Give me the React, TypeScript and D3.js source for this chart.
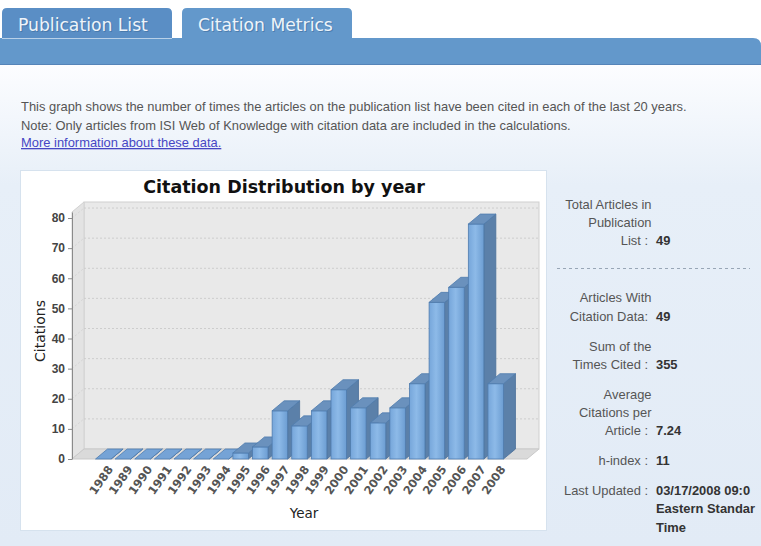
import * as d3 from "d3";
import { useEffect, useRef } from "react";

// data
const years = ["1988", "1989", "1990", "1991", "1992", "1993", "1994", "1995", "1996", "1997", "1998",
  "1999", "2000", "2001", "2002", "2003", "2004", "2005", "2006", "2007", "2008"];
const citations = [0, 0, 0, 0, 0, 0, 0, 2, 4, 16, 11, 16, 23, 17, 12, 17, 25, 52, 57, 78, 25];
const yTicks = [0, 10, 20, 30, 40, 50, 60, 70, 80];

const tabNames = ["Publication List", "Citation Metrics"];
const introLines = [
  "This graph shows the number of times the articles on the publication list have been cited in each of the last 20 years.",
  "Note: Only articles from ISI Web of Knowledge with citation data are included in the calculations.",
];
const linkText = "More information about these data.";
const chartTitle = "Citation Distribution by year";
const xTitle = "Year";
const yTitle = "Citations";

const statLabels = [
  ["Total Articles in", "Publication", "List :"],
  ["Articles With", "Citation Data:"],
  ["Sum of the", "Times Cited :"],
  ["Average", "Citations per", "Article :"],
  ["h-index :"],
  ["Last Updated :"],
];
// the last value is shown cut off by the page edge in the reference
const statValues = [["49"], ["49"], ["355"], ["7.24"], ["11"], ["03/17/2008 09:0", "Eastern Standar", "Time"]];

const W = 761;
const H = 546;
const PAGE_FONT = "'Liberation Sans', Arial, sans-serif";
const CHART_FONT = "'DejaVu Sans', sans-serif";

export default function App() {
  const ref = useRef<SVGSVGElement>(null);

  useEffect(() => {
    const svg = d3.select(ref.current);
    svg.selectAll("*").remove();
    const defs = svg.append("defs");

    const pageBg = defs.append("linearGradient").attr("id", "pageBg")
      .attr("x1", 0).attr("y1", 0).attr("x2", 0).attr("y2", 1);
    pageBg.append("stop").attr("offset", "0%").attr("stop-color", "#fcfdff");
    pageBg.append("stop").attr("offset", "25%").attr("stop-color", "#e7eff8");
    pageBg.append("stop").attr("offset", "100%").attr("stop-color", "#e2ebf6");

    const front = defs.append("linearGradient").attr("id", "barFront")
      .attr("x1", 0).attr("y1", 0).attr("x2", 1).attr("y2", 0);
    front.append("stop").attr("offset", "0%").attr("stop-color", "#76a6da");
    front.append("stop").attr("offset", "45%").attr("stop-color", "#8dbae8");
    front.append("stop").attr("offset", "100%").attr("stop-color", "#6c9dd2");

    // page
    svg.append("rect").attr("width", W).attr("height", H).attr("fill", "#ffffff");
    svg.append("rect").attr("y", 65).attr("width", W).attr("height", H - 65).attr("fill", "url(#pageBg)");

    // tabs + bar
    const tabX = [2, 182];
    const tabW = 170;
    tabNames.forEach((name, i) => {
      const x0 = tabX[i];
      const r = 5;
      svg.append("path")
        .attr("d", `M${x0},39 V${8 + r} Q${x0},8 ${x0 + r},8 H${x0 + tabW - r} Q${x0 + tabW},8 ${x0 + tabW},${8 + r} V39 Z`)
        .attr("fill", i === 0 ? "#5a8ec5" : "#6398cb");
      svg.append("text").attr("x", x0 + 17).attr("y", 32)
        .attr("font-family", CHART_FONT).attr("font-size", 17.2)
        .attr("fill", "#3d6c9c").attr("opacity", 0.6).text(name);
      svg.append("text").attr("x", x0 + 16).attr("y", 31)
        .attr("font-family", CHART_FONT).attr("font-size", 17.2)
        .attr("fill", "#eef4fa").text(name);
    });
    svg.append("path")
      .attr("d", `M0,38 H${W - 8} Q${W},38 ${W},46 V65 H0 Z`)
      .attr("fill", "#6398cb");
    svg.append("line").attr("x1", 2).attr("x2", 172).attr("y1", 38.5).attr("y2", 38.5)
      .attr("stroke", "#b8d0e8").attr("stroke-width", 1.2);
    svg.append("line").attr("x1", 0).attr("x2", W).attr("y1", 64.5).attr("y2", 64.5)
      .attr("stroke", "#5584b8").attr("stroke-width", 1);

    // intro text, fitted to the reference's width
    const measure = svg.append("text").attr("font-family", PAGE_FONT).attr("font-size", 13).text(introLines[0]);
    const sx = 666 / (measure.node() as SVGTextElement).getComputedTextLength();
    measure.remove();

    const pageText = (x: number, y: number, txt: string, anchor = "start") =>
      svg.append("text")
        .attr("transform", `translate(${x},${y}) scale(${sx},1)`)
        .attr("font-family", PAGE_FONT).attr("font-size", 13)
        .attr("text-anchor", anchor).attr("fill", "#555555").text(txt);

    introLines.forEach((line, i) => pageText(21, 111 + i * 19, line));
    pageText(21, 147, linkText).attr("fill", "#4646c4").attr("text-decoration", "underline");

    // chart panel
    svg.append("rect").attr("x", 20.5).attr("y", 170.5).attr("width", 526).attr("height", 360)
      .attr("fill", "#ffffff").attr("stroke", "#d6e2ee");

    const g = svg.append("g");
    const plotL = 72, plotR = 527;
    const dx = 12, dy = 10;
    const x = d3.scaleBand().domain(years).range([plotL, plotR]).paddingInner(0.21).paddingOuter(1.2);
    const y = d3.scaleLinear().domain([0, 82]).range([459, 212]);
    const y0 = y(0);
    const yTop = y(82);

    // walls and floor
    g.append("rect").attr("x", plotL + dx).attr("y", yTop - dy).attr("width", plotR - plotL).attr("height", y0 - yTop)
      .attr("fill", "#e9e9e9").attr("stroke", "#cfcfcf");
    g.append("polygon")
      .attr("points", `${plotL},${y0} ${plotL + dx},${y0 - dy} ${plotL + dx},${yTop - dy} ${plotL},${yTop}`)
      .attr("fill", "#e3e3e3").attr("stroke", "#d2d2d2");
    g.append("polygon")
      .attr("points", `${plotL},${y0} ${plotR},${y0} ${plotR + dx},${y0 - dy} ${plotL + dx},${y0 - dy}`)
      .attr("fill", "#dadada").attr("stroke", "#c9c9c9");

    // gridlines on the back wall and side wall
    yTicks.filter((v) => v > 0).forEach((v) => {
      g.append("line").attr("x1", plotL + dx).attr("x2", plotR + dx).attr("y1", y(v) - dy).attr("y2", y(v) - dy)
        .attr("stroke", "#cdcdcd").attr("stroke-dasharray", "2,2");
      g.append("line").attr("x1", plotL).attr("x2", plotL + dx).attr("y1", y(v)).attr("y2", y(v) - dy)
        .attr("stroke", "#d4d4d4").attr("stroke-dasharray", "2,2");
    });

    // 3d bars
    const bw = x.bandwidth();
    years.forEach((yr, i) => {
      const v = citations[i];
      const bx = x(yr) as number;
      const yt = y(v);
      const bar = g.append("g");
      bar.append("polygon")
        .attr("points", `${bx + bw},${y0} ${bx + bw + dx},${y0 - dy} ${bx + bw + dx},${yt - dy} ${bx + bw},${yt}`)
        .attr("fill", "#5b80a9").attr("stroke", "#4a6f99").attr("stroke-width", 0.8);
      if (v > 0) {
        bar.append("rect").attr("x", bx).attr("y", yt).attr("width", bw).attr("height", y0 - yt)
          .attr("fill", "url(#barFront)").attr("stroke", "#4f7cae").attr("stroke-width", 0.8);
      }
      bar.append("polygon")
        .attr("points", `${bx},${yt} ${bx + dx},${yt - dy} ${bx + bw + dx},${yt - dy} ${bx + bw},${yt}`)
        .attr("fill", v > 0 ? "#6a91bd" : "#75a3d6").attr("stroke", "#4f7cae").attr("stroke-width", 0.8);
    });

    // y axis
    const yAxis = g.append("g").attr("transform", `translate(${plotL},0)`)
      .call(d3.axisLeft(y).tickValues(yTicks).tickSize(4).tickPadding(3).tickSizeOuter(0));
    yAxis.select(".domain").attr("stroke", "#8a8a8a");
    yAxis.selectAll(".tick line").attr("stroke", "#8a8a8a");
    yAxis.selectAll(".tick text")
      .attr("font-family", PAGE_FONT).attr("font-size", 12).attr("font-weight", "bold").attr("fill", "#444444");

    // x labels
    years.forEach((yr) => {
      g.append("text")
        .attr("transform", `translate(${(x(yr) as number) + bw / 2 + 7},${y0 + 8}) rotate(-55)`)
        .attr("text-anchor", "end").attr("dy", "0.35em")
        .attr("font-family", CHART_FONT).attr("font-size", 11.5).attr("font-weight", "bold")
        .attr("fill", "#555555").text(yr);
    });

    g.append("text").attr("x", 284).attr("y", 192.5).attr("text-anchor", "middle")
      .attr("font-family", CHART_FONT).attr("font-size", 17.5).attr("font-weight", "bold")
      .attr("fill", "#111111").text(chartTitle);
    g.append("text").attr("x", 304).attr("y", 518).attr("text-anchor", "middle")
      .attr("font-family", CHART_FONT).attr("font-size", 13.5).attr("fill", "#222222").text(xTitle);
    g.append("text").attr("transform", "translate(45,331) rotate(-90)").attr("text-anchor", "middle")
      .attr("font-family", CHART_FONT).attr("font-size", 14).attr("fill", "#222222").text(yTitle);

    // sidebar stats
    svg.append("line").attr("x1", 557).attr("x2", 750).attr("y1", 268.5).attr("y2", 268.5)
      .attr("stroke", "#98a6b6").attr("stroke-dasharray", "3,3");
    const lineH = 18.2;
    let base = 209;
    statLabels.forEach((labels, gi) => {
      labels.forEach((lab, li) => {
        const hasColon = lab.trim().endsWith(":");
        pageText(hasColon ? 648 : 651.5, base + li * lineH, lab, "end");
      });
      const vStart = base + (statValues[gi].length > 1 ? 0 : (labels.length - 1) * lineH);
      statValues[gi].forEach((val, vi) => {
        pageText(656, vStart + vi * lineH, val).attr("font-weight", "bold").attr("fill", "#333333");
      });
      const rows = Math.max(labels.length, statValues[gi].length);
      base += (rows - 1) * lineH + (gi === 0 ? 57 : 30);
    });
  }, []);

  return (
    <svg ref={ref} width={W} height={H} style={{ position: "absolute", left: 0, top: 0 }} />
  );
}
